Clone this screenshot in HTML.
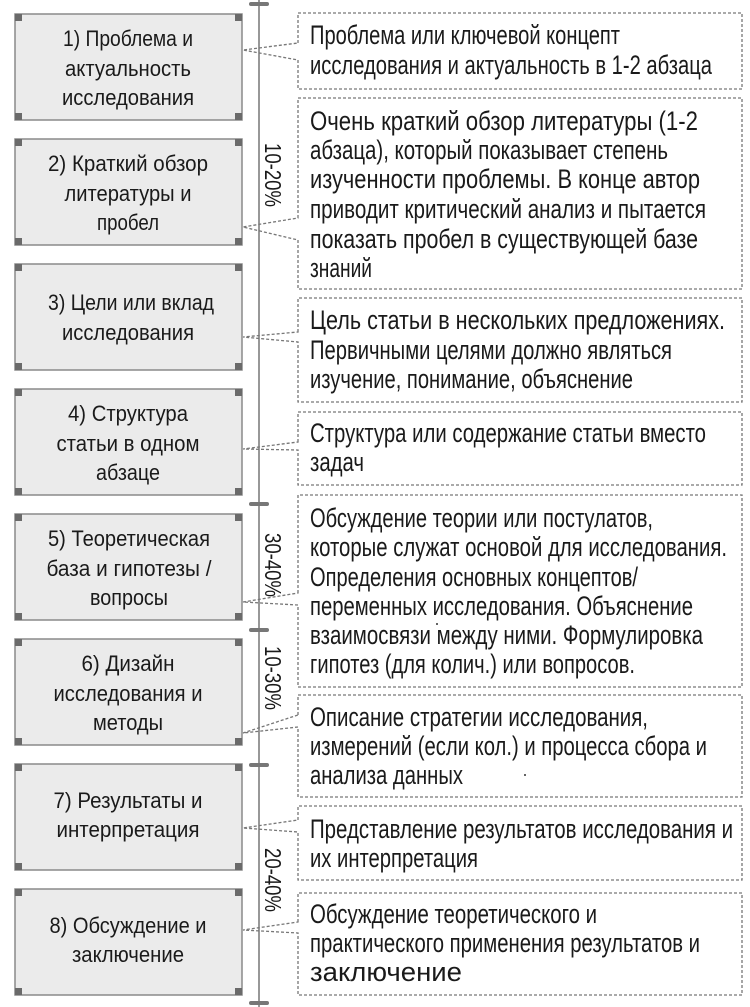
<!DOCTYPE html>
<html><head><meta charset="utf-8"><style>
html,body{margin:0;padding:0;background:#fff;}
svg{display:block;}
text{font-family:"Liberation Sans","Noto Sans CJK SC",sans-serif;font-size:27px;fill:#1a1a1a;}
.l text{font-size:22px;}
</style></head><body>
<svg width="750" height="1007" viewBox="0 0 750 1007" xmlns="http://www.w3.org/2000/svg">
<g id="left">
<g fill="#ebebeb" stroke="#8a8a8a" stroke-width="1.5">
<rect x="15" y="14" width="227" height="106"/>
<rect x="15" y="139" width="227" height="106"/>
<rect x="15" y="264" width="227" height="106"/>
<rect x="15" y="389" width="227" height="106"/>
<rect x="15" y="514" width="227" height="106"/>
<rect x="15" y="639" width="227" height="106"/>
<rect x="15" y="764" width="227" height="106"/>
<rect x="15" y="889" width="227" height="106"/>
</g>
<g fill="#6a6a6a">
<rect x="15" y="14" width="7" height="7"/><rect x="235" y="14" width="7" height="7"/><rect x="15" y="113" width="7" height="7"/><rect x="235" y="113" width="7" height="7"/>
<rect x="15" y="139" width="7" height="7"/><rect x="235" y="139" width="7" height="7"/><rect x="15" y="238" width="7" height="7"/><rect x="235" y="238" width="7" height="7"/>
<rect x="15" y="264" width="7" height="7"/><rect x="235" y="264" width="7" height="7"/><rect x="15" y="363" width="7" height="7"/><rect x="235" y="363" width="7" height="7"/>
<rect x="15" y="389" width="7" height="7"/><rect x="235" y="389" width="7" height="7"/><rect x="15" y="488" width="7" height="7"/><rect x="235" y="488" width="7" height="7"/>
<rect x="15" y="514" width="7" height="7"/><rect x="235" y="514" width="7" height="7"/><rect x="15" y="613" width="7" height="7"/><rect x="235" y="613" width="7" height="7"/>
<rect x="15" y="639" width="7" height="7"/><rect x="235" y="639" width="7" height="7"/><rect x="15" y="738" width="7" height="7"/><rect x="235" y="738" width="7" height="7"/>
<rect x="15" y="764" width="7" height="7"/><rect x="235" y="764" width="7" height="7"/><rect x="15" y="863" width="7" height="7"/><rect x="235" y="863" width="7" height="7"/>
<rect x="15" y="889" width="7" height="7"/><rect x="235" y="889" width="7" height="7"/><rect x="15" y="988" width="7" height="7"/><rect x="235" y="988" width="7" height="7"/>
</g>
<g class="l" text-anchor="middle">
<text x="128" y="46" textLength="130" lengthAdjust="spacingAndGlyphs">1) Проблема и</text>
<text x="128" y="76" textLength="126" lengthAdjust="spacingAndGlyphs">актуальность</text>
<text x="128" y="105" textLength="132" lengthAdjust="spacingAndGlyphs">исследования</text>
<text x="128" y="171" textLength="160" lengthAdjust="spacingAndGlyphs">2) Краткий обзор</text>
<text x="128" y="201" textLength="127" lengthAdjust="spacingAndGlyphs">литературы и</text>
<text x="128" y="230" textLength="62" lengthAdjust="spacingAndGlyphs">пробел</text>
<text x="131" y="310" textLength="166" lengthAdjust="spacingAndGlyphs">3) Цели или вклад</text>
<text x="128" y="340" textLength="132" lengthAdjust="spacingAndGlyphs">исследования</text>
<text x="128" y="421" textLength="120" lengthAdjust="spacingAndGlyphs">4) Структура</text>
<text x="128" y="451" textLength="143" lengthAdjust="spacingAndGlyphs">статьи в одном</text>
<text x="128" y="480" textLength="64" lengthAdjust="spacingAndGlyphs">абзаце</text>
<text x="129" y="546" textLength="162" lengthAdjust="spacingAndGlyphs">5) Теоретическая</text>
<text x="129" y="576" textLength="165" lengthAdjust="spacingAndGlyphs">база и гипотезы /</text>
<text x="129" y="605" textLength="78" lengthAdjust="spacingAndGlyphs">вопросы</text>
<text x="128" y="671" textLength="93" lengthAdjust="spacingAndGlyphs">6) Дизайн</text>
<text x="128" y="701" textLength="149" lengthAdjust="spacingAndGlyphs">исследования и</text>
<text x="128" y="730" textLength="70" lengthAdjust="spacingAndGlyphs">методы</text>
<text x="128" y="808" textLength="149" lengthAdjust="spacingAndGlyphs">7) Результаты и</text>
<text x="128" y="837" textLength="143" lengthAdjust="spacingAndGlyphs">интерпретация</text>
<text x="128" y="933" textLength="157" lengthAdjust="spacingAndGlyphs">8) Обсуждение и</text>
<text x="128" y="962" textLength="112" lengthAdjust="spacingAndGlyphs">заключение</text>
</g>
</g>
<line x1="259" y1="0" x2="259" y2="1007" stroke="#777" stroke-width="1.5"/>
<g stroke="#777" stroke-width="4" stroke-linecap="round">
<line x1="251" y1="4" x2="267" y2="4"/>
<line x1="251" y1="504" x2="267" y2="504"/>
<line x1="251" y1="630" x2="267" y2="630"/>
<line x1="251" y1="765" x2="267" y2="765"/>
<line x1="251" y1="1003" x2="267" y2="1003"/>
</g>
<g>
<text transform="translate(265,175) rotate(90)" text-anchor="middle" textLength="64" lengthAdjust="spacingAndGlyphs" style="font-size:23px">10-20%</text>
<text transform="translate(265,565) rotate(90)" text-anchor="middle" textLength="64" lengthAdjust="spacingAndGlyphs" style="font-size:23px">30-40%</text>
<text transform="translate(265,678) rotate(90)" text-anchor="middle" textLength="64" lengthAdjust="spacingAndGlyphs" style="font-size:23px">10-30%</text>
<text transform="translate(265,880) rotate(90)" text-anchor="middle" textLength="64" lengthAdjust="spacingAndGlyphs" style="font-size:23px">20-40%</text>
</g>
<g fill="none" stroke="#777" stroke-width="1.3" stroke-dasharray="3,2">
<path d="M298,43 V13 H742 V89 H298 V60 L243,50 Z"/>
<path d="M298,218 V98 H742 V289 H298 V240 L243,227 Z"/>
<path d="M298,332 V298 H742 V402 H298 V342 L243,337 Z"/>
<path d="M298,442 V412 H742 V485 H298 V450 L243,449 Z"/>
<path d="M298,593 V495 H742 V687 H298 V605 L243,602 Z"/>
<path d="M298,715 V695 H742 V797 H298 V727 L243,733 Z"/>
<path d="M298,820 V806 H742 V880 H298 V832 L243,828 Z"/>
<path d="M298,922 V893 H742 V995 H298 V933 L243,930 Z"/>
</g>
<circle cx="437" cy="624" r="1" fill="#333"/>
<circle cx="525" cy="775" r="1" fill="#333"/>
<g>
<text x="310" y="44" textLength="310" lengthAdjust="spacingAndGlyphs">Проблема или ключевой концепт</text>
<text x="310" y="74" textLength="402" lengthAdjust="spacingAndGlyphs">исследования и актуальность в 1-2 абзаца</text>
<text x="310" y="130" textLength="388" lengthAdjust="spacingAndGlyphs">Очень краткий обзор литературы (1-2</text>
<text x="310" y="159" textLength="358" lengthAdjust="spacingAndGlyphs">абзаца), который показывает степень</text>
<text x="310" y="188" textLength="390" lengthAdjust="spacingAndGlyphs">изученности проблемы. В конце автор</text>
<text x="310" y="218" textLength="396" lengthAdjust="spacingAndGlyphs">приводит критический анализ и пытается</text>
<text x="310" y="248" textLength="388" lengthAdjust="spacingAndGlyphs">показать пробел в существующей базе</text>
<text x="310" y="277" textLength="62" lengthAdjust="spacingAndGlyphs">знаний</text>
<text x="310" y="329" textLength="415" lengthAdjust="spacingAndGlyphs">Цель статьи в нескольких предложениях.</text>
<text x="310" y="359" textLength="362" lengthAdjust="spacingAndGlyphs">Первичными целями должно являться</text>
<text x="310" y="388" textLength="323" lengthAdjust="spacingAndGlyphs">изучение, понимание, объяснение</text>
<text x="310" y="442" textLength="396" lengthAdjust="spacingAndGlyphs">Структура или содержание статьи вместо</text>
<text x="310" y="471" textLength="54" lengthAdjust="spacingAndGlyphs">задач</text>
<text x="310" y="527" textLength="343" lengthAdjust="spacingAndGlyphs">Обсуждение теории или постулатов,</text>
<text x="310" y="556" textLength="417" lengthAdjust="spacingAndGlyphs">которые служат основой для исследования.</text>
<text x="310" y="586" textLength="328" lengthAdjust="spacingAndGlyphs">Определения основных концептов/</text>
<text x="310" y="615" textLength="383" lengthAdjust="spacingAndGlyphs">переменных исследования. Объяснение</text>
<text x="310" y="644" textLength="393" lengthAdjust="spacingAndGlyphs">взаимосвязи между ними. Формулировка</text>
<text x="310" y="673" textLength="325" lengthAdjust="spacingAndGlyphs">гипотез (для колич.) или вопросов.</text>
<text x="310" y="726" textLength="338" lengthAdjust="spacingAndGlyphs">Описание стратегии исследования,</text>
<text x="310" y="755" textLength="397" lengthAdjust="spacingAndGlyphs">измерений (если кол.) и процесса сбора и</text>
<text x="310" y="784" textLength="153" lengthAdjust="spacingAndGlyphs">анализа данных</text>
<text x="310" y="838" textLength="423" lengthAdjust="spacingAndGlyphs">Представление результатов исследования и</text>
<text x="310" y="867" textLength="168" lengthAdjust="spacingAndGlyphs">их интерпретация</text>
<text x="310" y="923" textLength="287" lengthAdjust="spacingAndGlyphs">Обсуждение теоретического и</text>
<text x="310" y="952" textLength="390" lengthAdjust="spacingAndGlyphs">практического применения результатов и</text>
<text x="310" y="981" textLength="152" lengthAdjust="spacingAndGlyphs">заключение</text>
</g>
</svg>
</body></html>
